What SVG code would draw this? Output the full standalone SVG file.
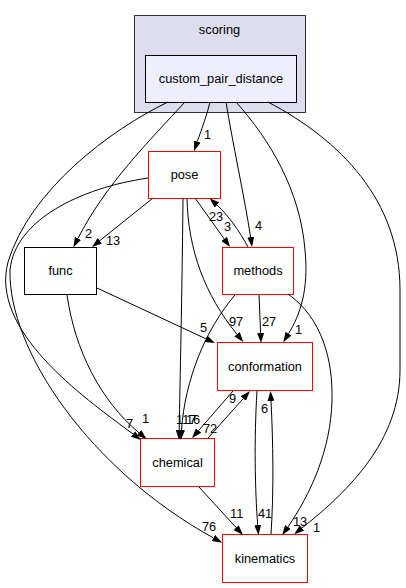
<svg xmlns="http://www.w3.org/2000/svg" width="406" height="588" viewBox="0 0 406 588">
<defs>
<marker id="ah" viewBox="0 0 10 7" refX="0" refY="3.5" markerWidth="10" markerHeight="7" markerUnits="userSpaceOnUse" orient="auto">
<path d="M0,0 L10,3.5 L0,7 z" fill="#000"/>
</marker>
<style>
text{font-family:"Liberation Sans",Arial,Helvetica,sans-serif;font-size:12.8px;fill:#000}
.n{text-anchor:middle}
.red{fill:#fff;stroke:#ff0000;stroke-width:1}
.blk{fill:#fff;stroke:#000;stroke-width:1}
.e{fill:none;stroke:#000;stroke-width:1;marker-end:url(#ah)}
</style>
</defs>
<rect width="406" height="588" fill="#fff"/>
<g id="cluster_scoring">
<rect x="134.5" y="15.5" width="171" height="97" fill="#ddddee" stroke="#333"/>
<text class="n" x="219.5" y="34">scoring</text>
</g>
<g id="node_custom_pair_distance">
<rect x="145.5" y="55.5" width="151" height="47" fill="#eeeeff" stroke="#000"/>
<text class="n" x="221" y="83">custom_pair_distance</text>
</g>
<g id="node_pose">
<rect class="red" x="148.5" y="151.5" width="72" height="47"/>
<text class="n" x="184.5" y="179">pose</text>
</g>
<g id="node_func">
<rect class="blk" x="24.5" y="247.5" width="72" height="47"/>
<text class="n" x="60.5" y="275">func</text>
</g>
<g id="node_methods">
<rect class="red" x="222.5" y="247.5" width="71" height="47"/>
<text class="n" x="258" y="275">methods</text>
</g>
<g id="node_conformation">
<rect class="red" x="217.5" y="342.5" width="95" height="48"/>
<text class="n" x="265" y="371">conformation</text>
</g>
<g id="node_chemical">
<rect class="red" x="140.5" y="438.5" width="74" height="48"/>
<text class="n" x="177.5" y="467">chemical</text>
</g>
<g id="node_kinematics">
<rect class="red" x="222.5" y="534.5" width="85" height="48"/>
<text class="n" x="265" y="563">kinematics</text>
</g>
<g id="edges">
<path class="e" d="M210,102 C207,115 202,128 197.3,141.6"/>
<text x="204" y="139">1</text>
<path class="e" d="M185,102 C150,140 105,185 78,238.4"/>
<text x="85" y="238">2</text>
<path class="e" d="M168,102 C110,130 30,190 8,262 C-10,330 80,395 133,434"/>
<text x="126" y="428">7</text>
<path class="e" d="M148,178 C80,188 15,220 10,270 C8,350 90,470 213.4,537.9"/>
<text x="202" y="531">76</text>
<path class="e" d="M67,295 C75,350 100,400 139,432.8"/>
<text x="142" y="423">1</text>
<path class="e" d="M153,198 L99.8,240.7"/>
<text x="106" y="245">13</text>
<path class="e" d="M226,102 C232,140 245,200 250.6,237.1"/>
<text x="255" y="230">4</text>
<path class="e" d="M236,102 C270,140 300,190 305,250 C309,290 300,315 288.5,333.7"/>
<text x="295" y="334">1</text>
<path class="e" d="M268,102 C340,140 400,200 400,290 L400,370 C400,440 350,490 302,528"/>
<text x="313" y="532">1</text>
<path class="e" d="M195,198 L224.2,238.9"/>
<text x="209" y="221">23</text>
<path class="e" d="M248,247 C240,232 228,215 217,205"/>
<text x="224" y="231">3</text>
<path class="e" d="M187,198 C188,250 205,295 237,334.3"/>
<text x="229" y="326">97</text>
<path class="e" d="M183,198 C182,300 180,380 179.2,430"/>
<text x="176" y="424">117</text>
<path class="e" d="M235,295 C205,330 185,380 181.5,430"/>
<text x="186" y="424">16</text>
<path class="e" d="M97,288 L205.9,338.8"/>
<text x="200" y="332">5</text>
<path class="e" d="M259,295 L260.6,333"/>
<text x="262" y="326">27</text>
<path class="e" d="M288,294 C322,318 333,360 332,400 C331,450 310,495 287.9,526.9"/>
<text x="293" y="526">13</text>
<path class="e" d="M233,391 L198.6,430.5"/>
<text x="203" y="433">72</text>
<path class="e" d="M208,438 L243.3,398.5"/>
<text x="229" y="403">9</text>
<path class="e" d="M257,391 C254,440 255,490 257.7,525"/>
<text x="258" y="518">41</text>
<path class="e" d="M271,534 C274,490 273,440 271,401"/>
<text x="261" y="413">6</text>
<path class="e" d="M199,487 L236.2,527.6"/>
<text x="230" y="518">11</text>
</g>
</svg>
